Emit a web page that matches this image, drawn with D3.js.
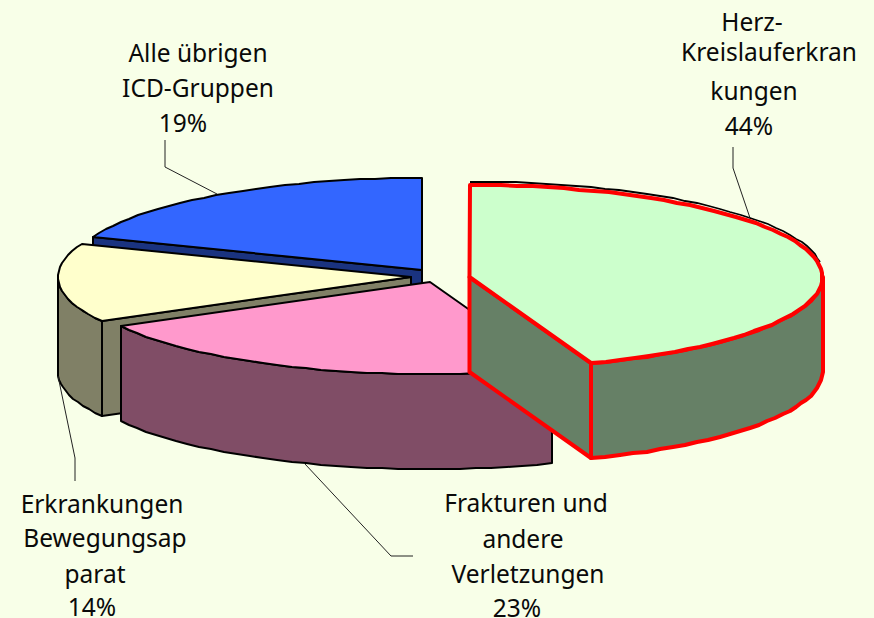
<!DOCTYPE html>
<html><head><meta charset="utf-8">
<script src="https://cdn.jsdelivr.net/npm/d3@7"></script>
<style>html,body{margin:0;padding:0;background:#f8ffe8}svg{display:block}text{font-family:"Noto Sans",sans-serif;font-size:24.5px;fill:#0a0a0a;text-anchor:middle}</style>
</head><body><svg id="c" width="874" height="618"></svg>
<script>
const categories = ["Herz-Kreislauferkrankungen","Frakturen und andere Verletzungen","Erkrankungen Bewegungsapparat","Alle übrigen ICD-Gruppen"];
const values = [44.4,22.6,13.9,19.1];
const topColors = ["#ccffcc","#ff99cc","#ffffcc","#3366ff"];
const wallColors = ["#668066","#804d66","#808066","#1a3380"];
const edgeColors = ["#ff0000","#000","#000","#000"];
const edgeWidths = [4,2,2,2];
const labelLines = [
 ["Herz-","Kreislauferkran","kungen","44%"],
 ["Frakturen und","andere","Verletzungen","23%"],
 ["Erkrankungen","Bewegungsap","parat","14%"],
 ["Alle übrigen","ICD-Gruppen","19%"]];
// layout
const apexX=[469.5,430,411,422], apexY=[277,282,277,270];
const labelX=[[752,769,754,749],[526,523,528,517],[102,105,95,92],[198,198,183]];
const labelY=[[31,61,100,135],[512,548,583,617],[513,547,583,616],[62,97,132]];
const leaders=[[[733,147],[733,168],[750,218]],[[413,556],[391,556],[305,464]],[[75,481],[75,458],[58,376]],[[165,140],[165,167],[217,194]]];
const rx=353, ry=92, depth=95;

const svg=d3.select("#c");
const arcs=d3.pie().sort(null).value(d=>d)(values);
const line=d3.line();
const order=[3,2,1,0];

function projector(i){
  const sx=d3.scaleLinear().domain([-1,1]).range([apexX[i]-rx,apexX[i]+rx]);
  const sy=d3.scaleLinear().domain([-1,1]).range([apexY[i]-ry,apexY[i]+ry]);
  return (a,dz=0)=>[Math.round(sx(Math.sin(a))),Math.round(sy(-Math.cos(a))+dz)];
}
function rim(p,a0,a1,dz=0){
  const n=Math.max(2,Math.ceil((a1-a0)/0.045));
  return d3.range(n+1).map(k=>p(a0+(a1-a0)*k/n,dz));
}
order.forEach(i=>{
  const p=projector(i), d=arcs[i], A=[apexX[i],apexY[i]];
  const g=svg.append("g");
  const style=s=>s.attr("stroke",edgeColors[i]).attr("stroke-width",edgeWidths[i]).attr("stroke-linejoin","round");
  if(i===0){
    g.append("path").attr("d",line(rim(p,d.startAngle,Math.PI*0.46,-3.5))).attr("fill","none").attr("stroke","#000").attr("stroke-width",1.8);
  }
  // radial walls: drawn only when the cut face turns toward the viewer
  const radial=a=>{
    const q=p(a);
    g.append("path").attr("d",line([A,q,[q[0],q[1]+depth],[A[0],A[1]+depth]])+"Z").attr("fill",wallColors[i]).call(style);
  };
  if(Math.sin(d.startAngle)<-1e-6) radial(d.startAngle);
  if(Math.sin(d.endAngle)>1e-6) radial(d.endAngle);
  // outer wall in the front half
  const a0=Math.max(d.startAngle,Math.PI/2), a1=Math.min(d.endAngle,Math.PI*1.5);
  if(a1>a0){
    const top=rim(p,a0,a1), bot=rim(p,a0,a1,depth).reverse();
    g.append("path").attr("d",line(top.concat(bot))+"Z").attr("fill",wallColors[i]).call(style);
  }
  // top face
  g.append("path").attr("d",line([A].concat(rim(p,d.startAngle,d.endAngle)))+"Z").attr("fill",topColors[i]).call(style);
});
leaders.forEach(l=>svg.append("path").attr("d",line(l)).attr("fill","none").attr("stroke","#222").attr("stroke-width",1));
labelLines.forEach((ls,i)=>ls.forEach((t,j)=>svg.append("text").attr("x",labelX[i][j]).attr("y",labelY[i][j]).text(t)));
</script></body></html>
